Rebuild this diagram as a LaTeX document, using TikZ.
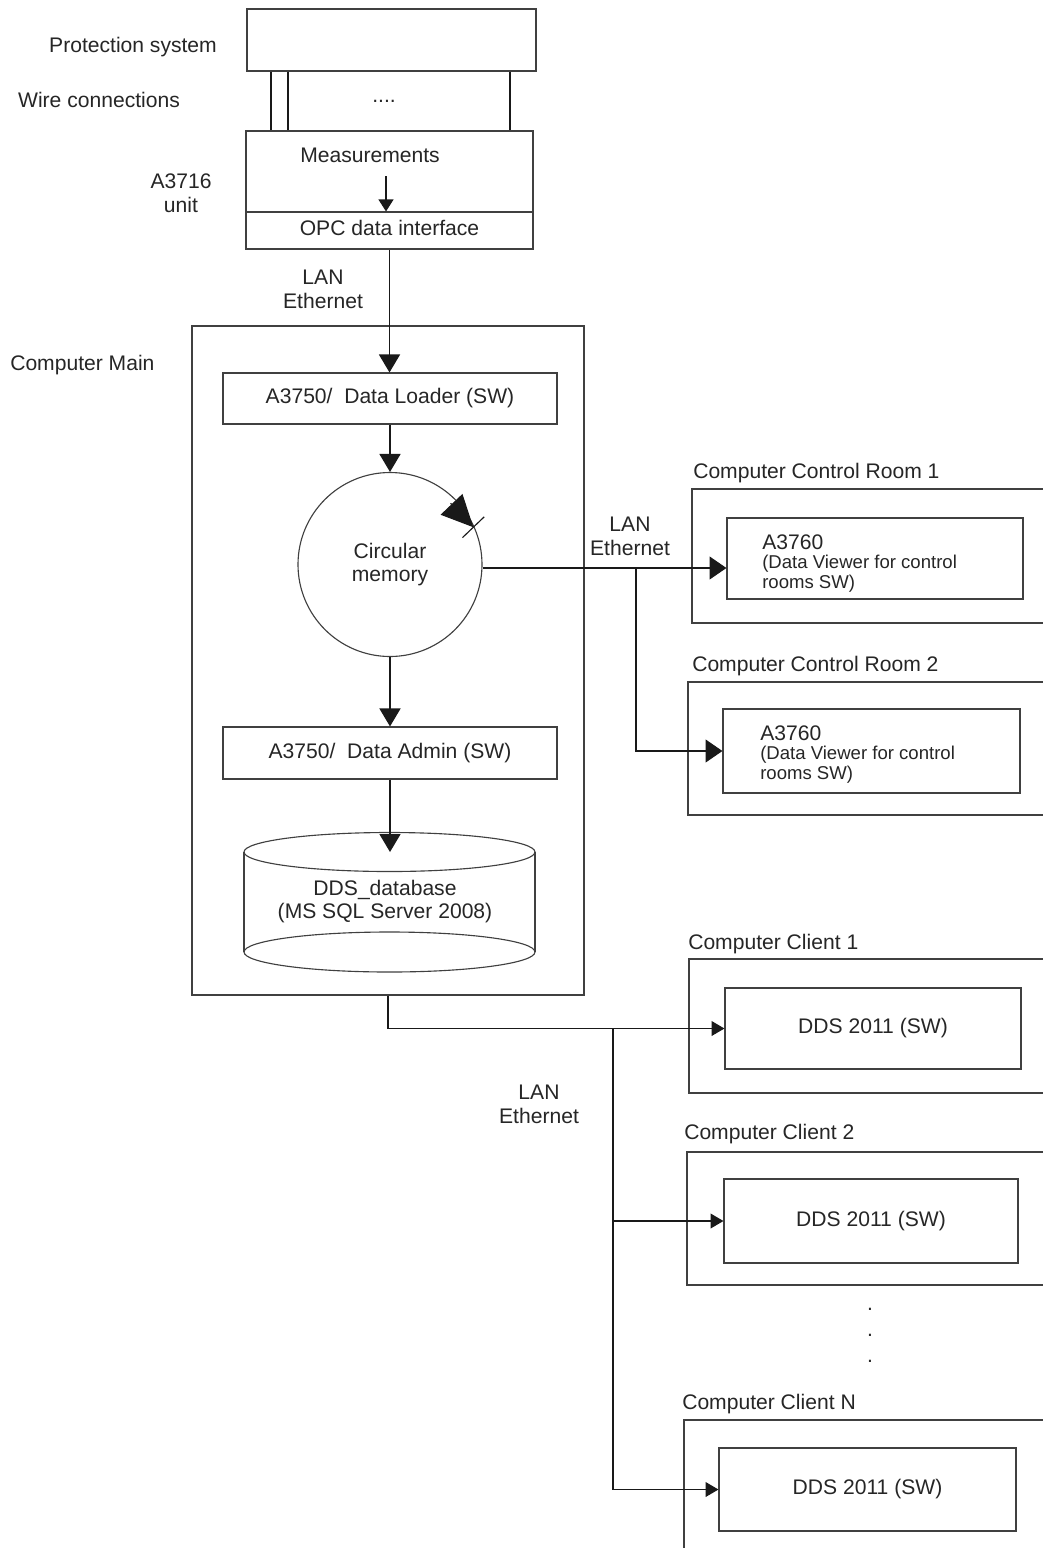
\documentclass[tikz,border=0pt]{standalone}
\usepackage{fontspec}
\setmainfont{Liberation Sans}
\usetikzlibrary{arrows.meta}
\newcommand\pxu[0]{0.025cm}

\tikzset{
  outline/.style={draw=black!75, line width=0.8pt},
  conn/.style={draw=black!90, line width=0.8pt},
  box/.style={outline, inner sep=0pt, text height=0.73em, text depth=0pt},
  boxsize/.style 2 args={minimum width=#1*\pxu, minimum height=#2*\pxu},
  lbl/.style={inner sep=0pt},
  small/.style={font=\fontsize{13.2}{14.8}\selectfont},
  bigarrow/.style={conn, -{Triangle[length=12.8pt,width=15pt]}},
  measarrow/.style={conn, -{Triangle[length=8.5pt,width=10.6pt]}},
  roomarrow/.style={conn, -{Triangle[length=12pt,width=16.3pt]}},
  clientarrow/.style={conn, -{Triangle[length=9.2pt,width=10.6pt]}},
  ringarrow/.style={conn, -{Triangle[length=22.5pt,width=21.3pt]}}
}

\begin{document}
\begin{tikzpicture}[x=\pxu, y=-\pxu, font=\fontsize{15}{17}\selectfont, text=black!85]

\useasboundingbox (0,0) rectangle (1043,1548);
\fill[white] (0,0) rectangle (1043,1548);
\clip (0,0) rectangle (1043,1548);

\node[box, boxsize={289}{62}] (prot) at (391.5,40) {};
\node[box, boxsize={287}{81}] (meas) at (389.5,171.5) {};
\node[box, boxsize={287}{37}] (opc) at (389.5,230.5) {OPC data interface};
\node[box, boxsize={392}{669}] (main) at (388,660.5) {};
\node[box, boxsize={334}{51}] (loader) at (390,398.5) {A3750/\ \ Data Loader (SW)};
\node[outline, circle, inner sep=0pt, minimum size=184*\pxu, align=center] (mem) at (390,564.5) {Circular\\memory};
\node[box, boxsize={334}{52}] (admin) at (390,753) {A3750/\ \ Data Admin (SW)};

\draw[outline] (389.5,852) ellipse [x radius=145.5, y radius=19.5];
\draw[outline] (389.5,952) ellipse [x radius=145.5, y radius=20];
\draw[outline] (244,852) -- (244,952) (535,852) -- (535,952);
\coordinate (dbtop) at (390,852);
\node[lbl, align=center] (db) at (385,901.5) {DDS\_database\\(MS SQL Server 2008)};

\node[box, boxsize={388}{134}] (cr1) at (886,556) {};
\node[box, boxsize={296}{81}] (cr1in) at (875,558.5) {};
\node[box, boxsize={392}{133}] (cr2) at (884,748.5) {};
\node[box, boxsize={297}{84}] (cr2in) at (871.5,751) {};
\node[box, boxsize={391}{134}] (cl1) at (884.5,1026) {};
\node[box, boxsize={296}{81}] (cl1in) at (873,1028.5) {DDS 2011 (SW)};
\node[box, boxsize={393}{133}] (cl2) at (883.5,1218.5) {};
\node[box, boxsize={294}{84}] (cl2in) at (871,1221) {DDS 2011 (SW)};
\node[box, boxsize={396}{180}] (cln) at (882,1510) {};
\node[box, boxsize={297}{83}] (clnin) at (867.5,1489.5) {DDS 2011 (SW)};

\node[lbl, anchor=base] (protlbl) at (133,52) {Protection system};
\node[lbl, anchor=base] (wirelbl) at (99,107) {Wire connections};
\node[lbl, anchor=base] (wiredots) at (384,102) {....};
\node[lbl, align=center] (unitlbl) at (181,193.5) {A3716\\unit};
\node[lbl, anchor=base] (meastxt) at (370,162) {Measurements};
\node[lbl, align=center] (lantop) at (323,289.4) {LAN\\Ethernet};
\node[lbl, anchor=base west] (mainlbl) at (10,370) {Computer Main};
\node[lbl, align=center] (lanmid) at (630,536.4) {LAN\\Ethernet};
\node[lbl, align=center] (lanbot) at (539,1104.4) {LAN\\Ethernet};

\node[lbl, anchor=base west] (cr1lbl) at (693,478) {Computer Control Room 1};
\node[lbl, anchor=base west] (cr1id) at (762,549) {A3760};
\node[lbl, small, anchor=west, align=left] (cr1txt) at (762,573.6) {(Data Viewer for control\\rooms SW)};
\node[lbl, anchor=base west] (cr2lbl) at (692,671) {Computer Control Room 2};
\node[lbl, anchor=base west] (cr2id) at (760,740) {A3760};
\node[lbl, small, anchor=west, align=left] (cr2txt) at (760,764.6) {(Data Viewer for control\\rooms SW)};
\node[lbl, anchor=base west] (cl1lbl) at (688,949) {Computer Client 1};
\node[lbl, anchor=base west] (cl2lbl) at (684,1139) {Computer Client 2};
\node[lbl, align=center, font=\fontsize{15}{18.4}\selectfont] (more) at (870,1335) {.\\.\\.};
\node[lbl, anchor=base west] (clnlbl) at (682,1409) {Computer Client N};

\draw[conn] (271,0 |- prot.south) -- (271,0 |- meas.north);
\draw[conn] (288,0 |- prot.south) -- (288,0 |- meas.north);
\draw[conn] (510,0 |- prot.south) -- (510,0 |- meas.north);

\coordinate (measout) at (386,176);
\draw[measarrow] (measout) -- (measout |- opc.north);
\draw[bigarrow] (opc.south) -- (opc.south |- loader.north);
\draw[bigarrow] (loader.south) -- (mem.north);
\draw[bigarrow] (mem.south) -- (admin.north);
\draw[bigarrow] (admin.south) -- (dbtop);

\coordinate (memtail) at ([shift={(-45.3:86.1)}]mem.center);
\coordinate (memtip) at ([shift={(-24.1:91.3)}]mem.center);
\draw[ringarrow] (memtail) -- (memtip);
\draw[conn] (memtip) ++(136.3:15) -- ++(-43.7:30);

\coordinate (lan1) at (636,568);
\draw[roomarrow] (mem.east |- lan1) -- (lan1 -| cr1in.west);
\draw[roomarrow] (lan1) |- (cr2in.west);

\draw[clientarrow] (main.south) |- (cl1in.west);
\coordinate (lan2) at (613,0 |- cl1in.west);
\draw[clientarrow] (lan2) |- (cl2in.west);
\draw[clientarrow] (lan2) |- (clnin.west);

\end{tikzpicture}
\end{document}
